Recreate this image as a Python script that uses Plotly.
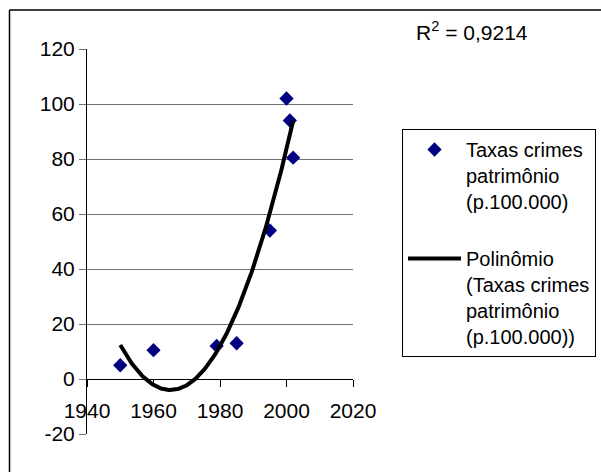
import numpy as np
import plotly.graph_objects as go

# Property-crime rate per 100,000 inhabitants
anos = [1950, 1960, 1979, 1985, 1995, 2000, 2001, 2002]
taxas = [5, 10.5, 12, 13, 54, 102, 94, 80.5]

serie_nome = "Taxas crimes<br>patrimônio<br>(p.100.000)"
tendencia_nome = "Polinômio<br>(Taxas crimes<br>patrimônio<br>(p.100.000))"
r2_texto = "R<sup>2</sup> = 0,9214"

x_ticks = [1940, 1960, 1980, 2000, 2020]
y_ticks = [-20, 0, 20, 40, 60, 80, 100, 120]

# Second-order polynomial trendline fitted to the series
coef = np.polyfit(anos, taxas, 2)
xt = np.linspace(min(anos), max(anos), 200)
yt = np.polyval(coef, xt)

FONT = "Liberation Sans, Arial, sans-serif"
FS = 21

# plot area in pixels
W, H = 601, 472
L, R, T, B = 87, 248, 49, 38
pw, ph = W - L - R, H - T - B


def px_x(p):
    return (p - L) / pw


def px_y(p):
    return (H - B - p) / ph


fig = go.Figure()
fig.add_trace(go.Scatter(
    x=anos, y=taxas, mode="markers", name=serie_nome,
    marker=dict(symbol="diamond", size=11, color="#000080"),
    legendgroup="a",
))
fig.add_trace(go.Scatter(
    x=xt, y=yt, mode="lines", name=tendencia_nome,
    line=dict(color="black", width=4),
    legendgroup="b",
))

fig.update_layout(
    width=W, height=H,
    margin=dict(l=L, r=R, t=T, b=B, autoexpand=False),
    paper_bgcolor="white", plot_bgcolor="white",
    font=dict(family=FONT, size=FS, color="black"),
    showlegend=True,
    legend=dict(
        x=px_x(402), y=px_y(129), xanchor="left", yanchor="top",
        bordercolor="black", borderwidth=1, bgcolor="white",
        font=dict(family=FONT, size=20, color="black"),
        itemwidth=53, traceorder="grouped", tracegroupgap=28,
        valign="top",
    ),
    xaxis=dict(
        range=[1940, 2020], tickvals=x_ticks, ticktext=[str(v) for v in x_ticks],
        showgrid=False, zeroline=False,
        showline=True, linecolor="black", linewidth=1,
        ticks="outside", ticklen=7, tickcolor="black",
        anchor="free", position=20 / 140,
        ticklabelstandoff=6,
        tickfont=dict(family=FONT, size=FS, color="black"),
    ),
    yaxis=dict(
        range=[-20, 120], tickvals=y_ticks, ticktext=[str(v) for v in y_ticks],
        showgrid=True, gridcolor="#707070", gridwidth=1, zeroline=False,
        showline=True, linecolor="black", linewidth=1,
        ticks="outside", ticklen=7, tickcolor="#707070",
        tickfont=dict(family=FONT, size=FS, color="black"),
    ),
    annotations=[dict(
        text=r2_texto, xref="paper", yref="paper",
        x=px_x(414), y=px_y(31), xanchor="left", yanchor="middle",
        showarrow=False, font=dict(family=FONT, size=FS, color="black"),
    )],
    shapes=[
        # chart frame (left and top edges visible)
        dict(type="line", xref="paper", yref="paper",
             x0=px_x(9.5), x1=px_x(9.5), y0=px_y(10), y1=px_y(480),
             line=dict(color="black", width=1.5)),
        dict(type="line", xref="paper", yref="paper",
             x0=px_x(9.5), x1=px_x(610), y0=px_y(10), y1=px_y(10),
             line=dict(color="black", width=1.5)),
    ],
)

fig.write_html("out.html")
